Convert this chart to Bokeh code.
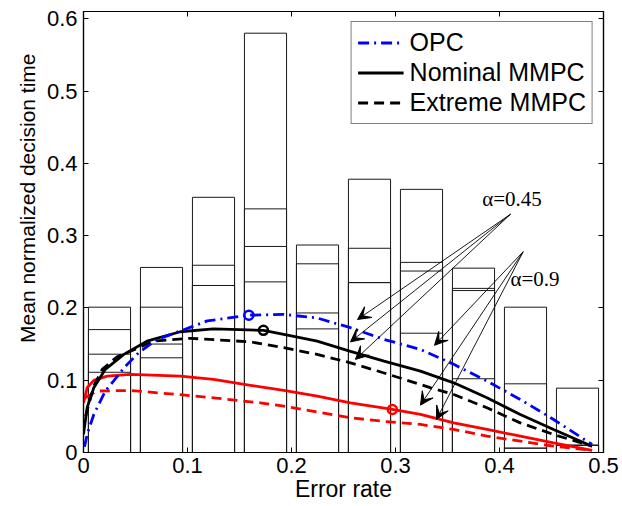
from bokeh.plotting import figure
from bokeh.models import (Legend, LegendItem, LinearAxis, FixedTicker, Arrow, VeeHead,
                          ColumnDataSource, Label, Range1d, Title)
from bokeh.embed import file_html
from bokeh.resources import INLINE

# ---- data ----
bin_centers = [0.025, 0.075, 0.125, 0.175, 0.225, 0.275, 0.325, 0.375, 0.425, 0.475]
bar_level1 = [0.201, 0.256, 0.353, 0.580, 0.287, 0.378, 0.364, 0.255, 0.201, 0.089]
bar_level2 = [0.170, 0.201, 0.259, 0.337, 0.261, 0.2825, 0.263, 0.227, 0.095, 0.010]
bar_level3 = [0.136, 0.150, 0.231, 0.285, 0.193, 0.235, 0.251, 0.224, 0.006, 0.010]
bar_level4 = [0.111, 0.131, 0.231, 0.236, 0.171, 0.235, 0.165, 0.102, 0.006, 0.010]

opc_x = [0.001, 0.0035, 0.0099, 0.021, 0.029, 0.0388, 0.053, 0.071, 0.093, 0.119, 0.159,
         0.1926, 0.2247, 0.2567, 0.2888, 0.324, 0.356, 0.388, 0.420, 0.452, 0.489]
opc_y = [0.008, 0.025, 0.0526, 0.085, 0.099, 0.117, 0.138, 0.1565, 0.168, 0.182, 0.190,
         0.191, 0.186, 0.1726, 0.1565, 0.1426, 0.122, 0.0988, 0.0733, 0.0457, 0.011]

nom_x = [0.0, 0.0035, 0.0099, 0.021, 0.0388, 0.061, 0.093, 0.125, 0.173, 0.1926, 0.2247,
         0.2567, 0.289, 0.324, 0.356, 0.388, 0.420, 0.452, 0.489]
nom_y = [0.025, 0.062, 0.0895, 0.115, 0.1357, 0.154, 0.167, 0.171, 0.169, 0.1634, 0.154,
         0.140, 0.1265, 0.1126, 0.0964, 0.0756, 0.0526, 0.0319, 0.0087]

ext_x = [0.002, 0.0099, 0.018, 0.032, 0.0676, 0.103, 0.1606, 0.1926, 0.2247, 0.2567, 0.289,
         0.334, 0.356, 0.388, 0.420, 0.452, 0.489]
ext_y = [0.05, 0.092, 0.115, 0.132, 0.154, 0.158, 0.153, 0.145, 0.1357, 0.124, 0.110,
         0.0895, 0.0803, 0.0618, 0.041, 0.025, 0.0087]

red_x = [0.0, 0.0035, 0.0099, 0.0228, 0.045, 0.093, 0.125, 0.1606, 0.1926, 0.2247, 0.2567,
         0.297, 0.324, 0.356, 0.388, 0.420, 0.452, 0.489]
red_y = [0.0687, 0.0895, 0.0997, 0.1057, 0.108, 0.1057, 0.101, 0.093, 0.0858, 0.078, 0.0687,
         0.0595, 0.0526, 0.041, 0.0319, 0.0226, 0.0133, 0.003]

redd_x = [0.002, 0.013, 0.045, 0.093, 0.125, 0.170, 0.1926, 0.2247, 0.2567, 0.289, 0.324,
          0.356, 0.388, 0.420, 0.452, 0.489]
redd_y = [0.076, 0.085, 0.0858, 0.080, 0.0756, 0.0687, 0.064, 0.056, 0.048, 0.043, 0.0388,
          0.0319, 0.0226, 0.0157, 0.0087, 0.003]

marker_x = [0.159, 0.173, 0.297]
marker_y = [0.190, 0.169, 0.0595]
marker_colors = ["blue", "black", "red"]

arrow_x_start = [0.4106, 0.4106, 0.4106, 0.4228, 0.4228, 0.4228]
arrow_y_start = [0.3296, 0.3296, 0.3296, 0.2778, 0.2778, 0.2778]
arrow_x_end = [0.2635, 0.2567, 0.2615, 0.3375, 0.324, 0.3394]
arrow_y_end = [0.184, 0.153, 0.1288, 0.1483, 0.0655, 0.0457]

x_ticks = [0, 0.1, 0.2, 0.3, 0.4, 0.5]
x_tick_labels = ["0", "0.1", "0.2", "0.3", "0.4", "0.5"]
y_ticks = [0, 0.1, 0.2, 0.3, 0.4, 0.5, 0.6]
y_tick_labels = ["0", "0.1", "0.2", "0.3", "0.4", "0.5", "0.6"]

x_title = "Error rate"
y_title = "Mean normalized decision time"

FONT = "Liberation Sans"

p = figure(width=622, height=506, x_range=Range1d(0, 0.5), y_range=Range1d(0, 0.61),
           output_backend="svg", toolbar_location=None,
           min_border_left=83, min_border_right=19, min_border_top=11, min_border_bottom=54,
           x_axis_label=x_title)
p.grid.visible = False
p.outline_line_color = "black"
p.outline_line_width = 1.2

# bars
for lv in [bar_level1, bar_level2, bar_level3, bar_level4]:
    p.vbar(x=bin_centers, width=0.0405, top=lv, bottom=0, fill_color=None,
           line_color="#1a1a1a", line_width=1)

# curves
r_red = p.line(red_x, red_y, line_color="red", line_width=2.8)
r_redd = p.line(redd_x, redd_y, line_color="red", line_width=2.8, line_dash="10 6")
r_ext = p.line(ext_x, ext_y, line_color="black", line_width=2.8, line_dash="10 6")
r_nom = p.line(nom_x, nom_y, line_color="black", line_width=2.8)
r_opc = p.line(opc_x, opc_y, line_color="blue", line_width=2.8, line_dash="11 5 2 5")

p.scatter(marker_x, marker_y, marker="circle", size=9, fill_color=None,
          line_color=marker_colors, line_width=2.5)

# arrows
asrc = ColumnDataSource(dict(x0=arrow_x_start, y0=arrow_y_start, x1=arrow_x_end, y1=arrow_y_end))
p.add_layout(Arrow(source=asrc, x_start="x0", y_start="y0", x_end="x1", y_end="y1",
                   line_color="black", line_width=0.9,
                   end=VeeHead(size=13, fill_color="black", line_color="black", line_width=1)))

p.add_layout(Label(x=0.3834, y=0.3503, text="α=0.45", text_font="Liberation Serif",
                   text_font_size="21px", text_color="black", text_baseline="middle"))
p.add_layout(Label(x=0.4106, y=0.2396, text="α=0.9", text_font="Liberation Serif",
                   text_font_size="21px", text_color="black", text_baseline="middle"))

# axes
def style_axis(ax, ticks, labels, show_labels=True):
    ax.ticker = FixedTicker(ticks=ticks)
    ax.major_label_overrides = {t: (l if show_labels else "") for t, l in zip(ticks, labels)}
    ax.major_tick_in = 5
    ax.major_tick_out = 0
    ax.minor_tick_line_color = None
    ax.axis_line_color = "black"
    ax.axis_line_width = 1.2
    ax.major_tick_line_color = "black"
    ax.major_tick_line_width = 1
    ax.major_label_text_font = FONT
    ax.major_label_text_font_size = "22px"
    ax.major_label_text_color = "black"
    ax.axis_label_text_font = FONT
    ax.axis_label_text_font_style = "normal"
    ax.axis_label_text_color = "black"

style_axis(p.xaxis[0], x_ticks, x_tick_labels)
style_axis(p.yaxis[0], y_ticks, y_tick_labels)
p.xaxis[0].axis_label_text_font_size = "23px"
p.xaxis[0].major_label_standoff = 5
p.xaxis[0].axis_label_standoff = 0
p.yaxis[0].major_label_standoff = 6

top_ax = LinearAxis()
style_axis(top_ax, x_ticks, x_tick_labels, show_labels=False)
top_ax.major_label_text_font_size = "0px"
top_ax.major_label_standoff = 0
right_ax = LinearAxis()
style_axis(right_ax, y_ticks, y_tick_labels, show_labels=False)
right_ax.major_label_text_font_size = "0px"
right_ax.major_label_standoff = 0
p.add_layout(top_ax, "above")
p.add_layout(right_ax, "right")

# y title placed like the reference (its top end sits ~42px below the frame top)
ytitle = Title(text=y_title, align="right", offset=42, standoff=10,
               text_font=FONT, text_font_size="21px", text_font_style="normal",
               text_color="black")
p.add_layout(ytitle, "left")

legend = Legend(items=[LegendItem(label="OPC", renderers=[r_opc]),
                       LegendItem(label="Nominal MMPC", renderers=[r_nom]),
                       LegendItem(label="Extreme MMPC", renderers=[r_ext])],
                location="top_right")
legend.margin = 10
legend.padding = 6
legend.spacing = 1
legend.label_height = 27
legend.glyph_height = 27
legend.glyph_width = 46
legend.label_standoff = 6
legend.label_text_font = FONT
legend.label_text_font_size = "25px"
legend.label_text_color = "black"
legend.border_line_color = "black"
legend.border_line_width = 1.2
legend.background_fill_alpha = 1.0
p.add_layout(legend)

open("out.html", "w").write(file_html(p, INLINE))
